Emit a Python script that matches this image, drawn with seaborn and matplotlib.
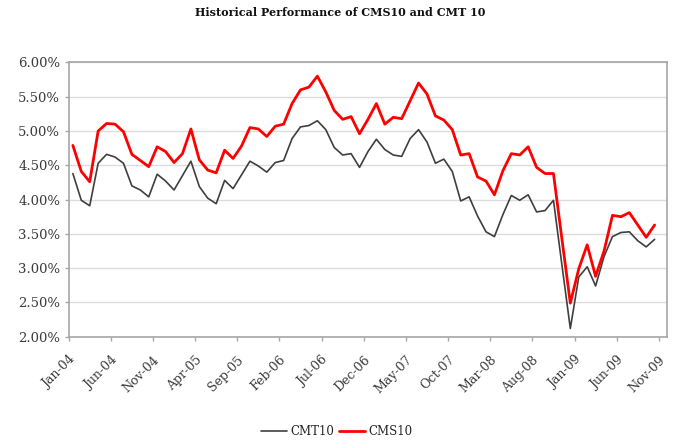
import numpy as np
import pandas as pd
import matplotlib
matplotlib.use("Agg")
import matplotlib.pyplot as plt
import seaborn as sns

# monthly month-end yields (%), Jan-04 .. Nov-09 (Nov-09 not reported)
months = pd.date_range("2004-01-01", "2009-11-01", freq="MS").strftime("%b-%y").tolist()

cmt10 = [4.38, 3.99, 3.91, 4.53, 4.66, 4.62, 4.53, 4.20, 4.14, 4.04,
         4.37, 4.27, 4.14, 4.35, 4.56, 4.19, 4.02, 3.94, 4.28, 4.16,
         4.36, 4.56, 4.49, 4.40, 4.54, 4.57, 4.89, 5.06, 5.08, 5.15,
         5.02, 4.76, 4.65, 4.67, 4.47, 4.70, 4.88, 4.73, 4.65, 4.63,
         4.89, 5.02, 4.84, 4.53, 4.59, 4.41, 3.98, 4.04, 3.76, 3.53,
         3.46, 3.78, 4.06, 3.99, 4.07, 3.82, 3.84, 3.99, 3.05, 2.12,
         2.87, 3.02, 2.74, 3.17, 3.46, 3.52, 3.53, 3.40, 3.31, 3.42,
         np.nan]

cms10 = [4.79, 4.41, 4.26, 5.00, 5.11, 5.10, 4.99, 4.66, 4.57, 4.48,
         4.77, 4.70, 4.54, 4.67, 5.03, 4.58, 4.43, 4.39, 4.72, 4.60,
         4.78, 5.05, 5.03, 4.92, 5.07, 5.10, 5.40, 5.60, 5.64, 5.80,
         5.57, 5.30, 5.17, 5.21, 4.96, 5.17, 5.40, 5.10, 5.20, 5.18,
         5.44, 5.70, 5.54, 5.22, 5.16, 5.02, 4.65, 4.67, 4.33, 4.27,
         4.07, 4.42, 4.67, 4.65, 4.77, 4.47, 4.38, 4.38, 3.43, 2.49,
         2.99, 3.34, 2.88, 3.25, 3.77, 3.75, 3.81, 3.63, 3.45, 3.63,
         np.nan]

y_ticks = [2.0, 2.5, 3.0, 3.5, 4.0, 4.5, 5.0, 5.5, 6.0]

sns.set_style("white")
plt.rcParams["font.family"] = ["DejaVu Serif"]

idx = np.arange(len(months))
df = pd.DataFrame({"i": idx, "CMT10": cmt10, "CMS10": cms10})

fig = plt.figure(figsize=(6.73, 4.46), dpi=100)
ax = fig.add_axes([0.102, 0.245, 0.8895, 0.615])

sns.lineplot(data=df, x="i", y="CMT10", ax=ax, color="#3f3f3f", linewidth=1.2, label="CMT10")
sns.lineplot(data=df, x="i", y="CMS10", ax=ax, color="#ff0000", linewidth=2.0, label="CMS10")

ax.set_xlim(-0.5, len(months) - 0.5)
ax.set_ylim(2.0, 6.0)
ax.set_yticks(y_ticks)
ax.set_yticklabels([f"{v:.2f}%" for v in y_ticks], fontsize=9.5, color="#3a3a3a")

tick_pos = idx[::5]
ax.set_xticks(tick_pos - 0.5)
ax.set_xticklabels([months[i] for i in tick_pos], rotation=45, ha="right",
                   rotation_mode="anchor", fontsize=9, color="#3a3a3a")
ax.set_xlabel("")
ax.set_ylabel("")

ax.grid(axis="y", color="#dcdcdc", linewidth=1.0)
ax.grid(axis="x", visible=False)
for s in ax.spines.values():
    s.set_color("#a6a6a6")
    s.set_linewidth(1.2)
ax.tick_params(axis="y", length=3, width=1, color="#a6a6a6", direction="out",
               left=True, pad=3)
ax.tick_params(axis="x", length=3, width=1, color="#a6a6a6", direction="out",
               bottom=True, pad=9)

ax.legend_.remove()
handles, labels = ax.get_legend_handles_labels()
fig.legend(handles, labels, loc="center", bbox_to_anchor=(0.5, 0.032), ncol=2,
           frameon=False, fontsize=8.5, handlelength=2.2, handletextpad=0.3,
           columnspacing=0.4)

fig.text(0.505, 0.972, "Historical Performance of CMS10 and CMT 10", ha="center",
         va="center", fontsize=8, fontweight="bold", color="#111111")

fig.savefig("out.png", dpi=100)
